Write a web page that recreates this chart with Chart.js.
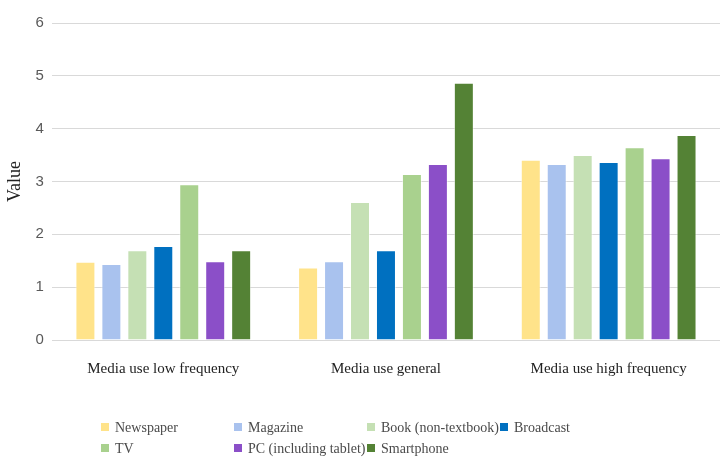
<!DOCTYPE html>
<html>
  <head>
    <title>Media use</title>
    <script src="https://cdn.jsdelivr.net/npm/chart.js"></script>
    <style>
      body { margin: 0; background: #fff; }
      #wrap { position: relative; width: 727px; height: 473px; }
      #legend { position: absolute; left: 101px; top: 420px; width: 620px;
        font-family: "Liberation Serif", serif; font-size: 14px; color: #4a4a4a; }
      .item { position: absolute; white-space: nowrap; }
      .box { display: inline-block; width: 8px; height: 8px; margin-right: 6px; vertical-align: 1px; }
    </style>
  </head>
  <body>
    <div id="wrap">
      <canvas id="chart" width="727" height="473"></canvas>
      <div id="legend"></div>
    </div>

    <script>
        const categories = ['Media use low frequency', 'Media use general', 'Media use high frequency'];
        const seriesNames = ['Newspaper', 'Magazine', 'Book (non-textbook)', 'Broadcast', 'TV', 'PC (including tablet)', 'Smartphone'];
        const colors = ['#FFE38A', '#A9C2EE', '#C5E0B4', '#0070C0', '#A9D18E', '#8B4FC8', '#548235'];
        const newspaper = [1.48, 1.37, 3.41];
        const magazine = [1.44, 1.49, 3.33];
        const book = [1.70, 2.61, 3.50];
        const broadcast = [1.78, 1.70, 3.37];
        const tv = [2.95, 3.14, 3.65];
        const pc = [1.49, 3.33, 3.44];
        const smartphone = [1.70, 4.87, 3.88];
        const yTicks = [0, 1, 2, 3, 4, 5, 6];

        const values = [newspaper, magazine, book, broadcast, tv, pc, smartphone];

        const ctx = document.getElementById('chart').getContext('2d');
        const chart = new Chart(ctx, {
        type: 'bar',
        data: {
            labels: categories,
            datasets: seriesNames.map((name, i) => ({
              label: name,
              data: values[i],
              backgroundColor: colors[i],
              borderColor: 'rgba(255,255,255,0.5)',
              borderWidth: 1,
              categoryPercentage: 0.816,
              barPercentage: 0.77
            }))
        },
        options: {
          responsive: false,
          animation: false,
          layout: { padding: { top: 23, right: 7, bottom: 83, left: 0 } },
          plugins: { legend: { display: false }, tooltip: { enabled: false } },
          scales: {
            x: {
              grid: { display: false },
              border: { display: false },
              ticks: { padding: 12, color: '#222', font: { family: 'Liberation Serif', size: 15 } }
            },
            y: {
              min: 0, max: 6,
              afterBuildTicks: (axis) => { axis.ticks = yTicks.map(v => ({ value: v })); },
              grid: { color: '#d9d9d9', drawTicks: false, lineWidth: 1 },
              border: { display: false },
              ticks: { padding: 8, color: '#595959', font: { family: 'Liberation Sans', size: 15 } },
              title: { display: true, text: 'Value', color: '#222', padding: { top: 4, bottom: 2 },
                font: { family: 'Liberation Serif', size: 18 } }
            }
          }
        }
        });

        // legend in a fixed grid, 4 per row like the original
        const legend = document.getElementById('legend');
        seriesNames.forEach((name, i) => {
          const el = document.createElement('div');
          el.className = 'item';
          el.style.left = (i % 4) * 133 + 'px';
          el.style.top = Math.floor(i / 4) * 21 + 'px';
          el.innerHTML = '<span class="box" style="background:' + colors[i] + '"></span>' + name;
          legend.appendChild(el);
        });
    </script>
  </body>
</html>
